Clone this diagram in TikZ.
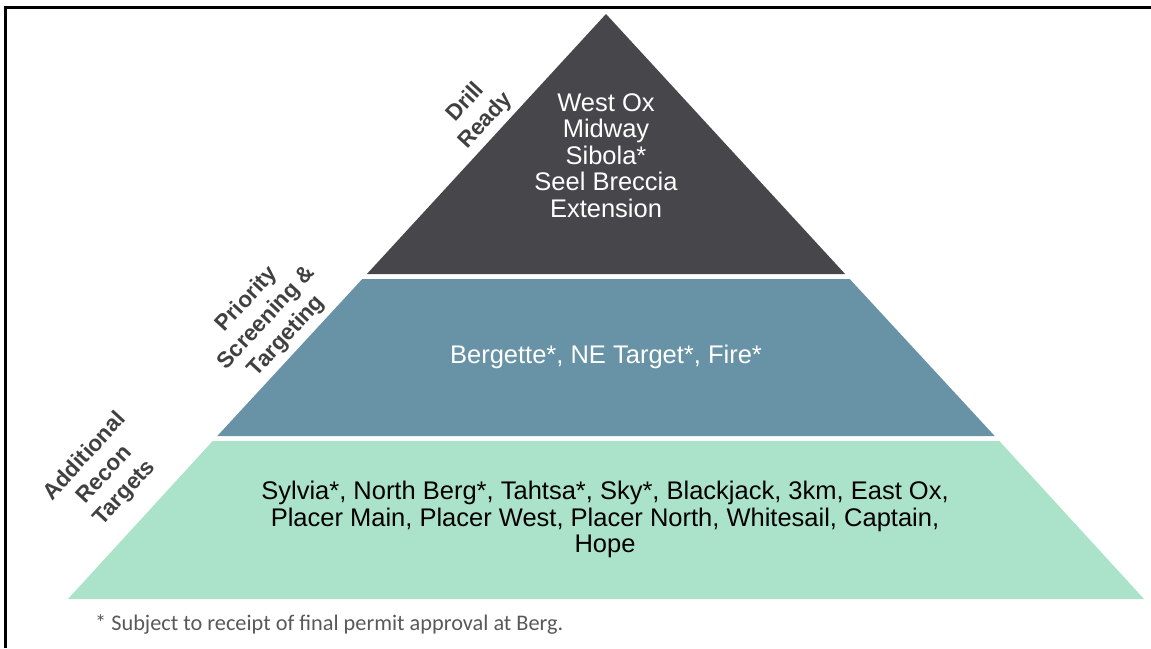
\documentclass[tikz,border=0pt]{standalone}
\usepackage{fontspec}
\setmainfont{Liberation Sans}
\newfontfamily\notefont{Carlito}
\definecolor{tierA}{HTML}{47464A}
\definecolor{tierB}{HTML}{6893A6}
\definecolor{tierC}{HTML}{ABE2CA}
\definecolor{labelgray}{HTML}{404040}
\definecolor{notegray}{HTML}{595959}
\begin{document}
\begin{tikzpicture}[x=1pt,y=-1pt,
  tiertext/.style={align=center,font=\fontsize{25.5}{26.5}\selectfont,inner sep=0pt},
  sidelabel/.style={align=center,font=\fontsize{22.5}{27}\selectfont\bfseries,text=labelgray,rotate=47.4,inner sep=0pt}]
\useasboundingbox (0,0) rectangle (1151,648);
\fill[white] (0,0) rectangle (1151,648);
% tiers: apex (606,14), base y=599, x 68..1144
\fill[tierA] (606,14) -- (845.1,274) -- (366.9,274) -- cycle;
\fill[tierB] (362.3,279) -- (849.7,279) -- (994.7,436) -- (217.3,436) -- cycle;
\fill[tierC] (212.7,441) -- (999.3,441) -- (1144,599) -- (68,599) -- cycle;
% frame
\draw[line width=3pt] (5,648) -- (5,7) -- (1151,7);
% tier texts
\node[tiertext,text=white] (ta) at (606,155.5) {West Ox\\Midway\\Sibola*\\Seel Breccia\\Extension};
\node[tiertext,text=white] (tb) at (606,357) {Bergette*, NE Target*, Fire*};
\node[tiertext,text=black] (tc) at (605,519.5) {Sylvia*, North Berg*, Tahtsa*, Sky*, Blackjack, 3km, East Ox,\\Placer Main, Placer West, Placer North, Whitesail, Captain,\\Hope};
% side labels
\node[sidelabel] (la) at (476,112) {Drill\\Ready};
\node[sidelabel] (lb) at (267,318) {Priority\\Screening \&\\Targeting};
\node[sidelabel] (lc) at (105,475) {Additional\\Recon\\Targets};
% footnote
\node[anchor=west,inner sep=0pt,text=notegray,font=\notefont\fontsize{22.3}{24}\selectfont] (fn) at (95,624) {* Subject to receipt of final permit approval at Berg.};
\end{tikzpicture}
\end{document}
